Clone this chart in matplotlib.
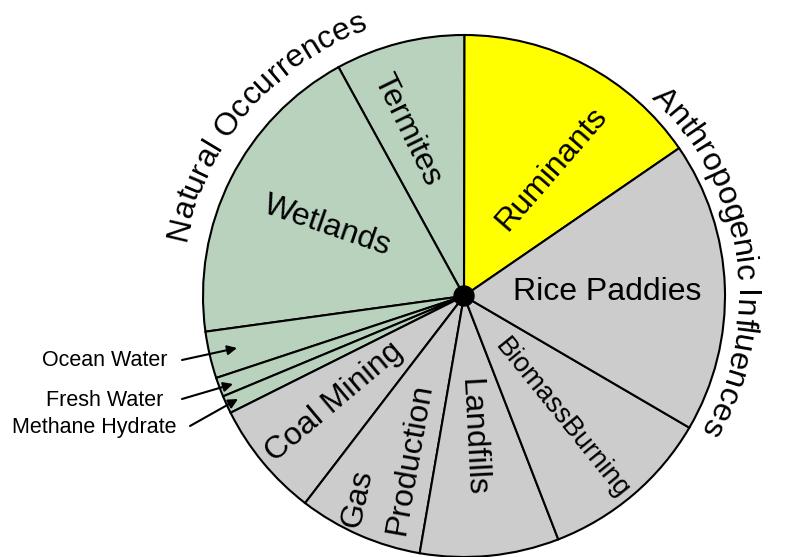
import numpy as np
import matplotlib
matplotlib.use('Agg')
import matplotlib.pyplot as plt
from matplotlib.patches import Circle
from matplotlib.font_manager import FontProperties, findfont
from matplotlib.ft2font import FT2Font

plt.rcParams['font.family'] = 'Liberation Sans'

# methane sources, share of global emissions (%), counter-clockwise from Ruminants
sources = ['Ruminants', 'Termites', 'Wetlands', 'Ocean Water', 'Fresh Water',
           'Methane Hydrate', 'Coal Mining', 'Gas Production', 'Landfills',
           'BiomassBurning', 'Rice Paddies']
shares = [15.4, 8.0, 19.2, 2.9, 1.2, 1.1, 7.2, 7.7, 8.6, 10.7, 18.0]
natural = ['Termites', 'Wetlands', 'Ocean Water', 'Fresh Water', 'Methane Hydrate']
group_titles = ['Natural Occurrences', 'Anthropogenic Influences']

GREEN = '#b8d2be'
GRAY = '#cccccc'
YELLOW = '#ffff00'
colors = [YELLOW if s == 'Ruminants' else GREEN if s in natural else GRAY
          for s in sources]

W, H, DPI = 785, 557, 100
cx, cy = 464, 296      # pie centre, pixels from top-left
R = 261

fig = plt.figure(figsize=(W / DPI, H / DPI), dpi=DPI)
ax = fig.add_axes([0, 0, 1, 1])
ax.pie(shares, colors=colors, startangle=34.5, counterclock=True, radius=R,
       wedgeprops=dict(edgecolor='black', linewidth=1.5))
ax.set_xlim(-cx, W - cx)
ax.set_ylim(-(H - cy), cy)
ax.set_aspect('equal')
ax.axis('off')
ax.add_patch(Circle((0, 0), 10, color='black', zorder=5))

# labels inside the wedges: text, x, y, rotation, size (pixels from centre)
inside = [
    ('Ruminants', 88, 127, 49, 23),
    ('Termites', -57, 166, -64, 23),
    ('Wetlands', -137, 70, -19, 23),
    ('Rice Paddies', 143, 4, 0, 23),
    ('BiomassBurning', 98, -123, -51, 19.5),
    ('Landfills', 8, -141, -87, 23),
    ('Coal Mining', -130, -106, 40, 23),
    ('Gas', -106, -203, 78, 23),
    ('Production', -54, -163, 80, 23),
]
for txt, x, y, rot, fs in inside:
    ax.text(x, y, txt, fontsize=fs, rotation=rot, rotation_mode='anchor',
            ha='center', va='center', zorder=6)

# small natural sources are labelled outside with arrows
callouts = [
    ('Ocean Water', (-296, -65), (-282, -64), (-227, -52)),
    ('Fresh Water', (-301, -104), (-282, -103), (-231, -88)),
    ('Methane Hydrate', (-287, -131), (-274, -130), (-226, -103)),
]
for txt, tpos, tail, head in callouts:
    ax.text(tpos[0], tpos[1], txt, fontsize=15.5, ha='right', va='center')
    ax.annotate('', xy=head, xytext=tail,
                arrowprops=dict(arrowstyle='-|>', color='black', lw=1.5,
                                mutation_scale=14, shrinkA=0, shrinkB=0))


def arc_text(s, r, mid_deg, size):
    # one glyph at a time along a circle, read clockwise, tops facing out
    prop = FontProperties(family='Liberation Sans', size=size)
    font = FT2Font(findfont(prop), 1)
    font.set_size(size, DPI)
    adv = [font.load_char(ord(c)).linearHoriAdvance / 65536 for c in s]
    total = sum(adv)
    pos = 0.0
    for c, a in zip(s, adv):
        off = pos + a / 2 - total / 2
        th = np.radians(mid_deg) - off / r
        ax.text(r * np.cos(th), r * np.sin(th), c, fontproperties=prop,
                rotation=np.degrees(th) - 90, rotation_mode='anchor',
                ha='center', va='baseline')
        pos += a


arc_text(group_titles[0], 284, 139.4, 23)
arc_text(group_titles[1], 272, 8.5, 23.4)

fig.savefig('out.png', dpi=DPI)
